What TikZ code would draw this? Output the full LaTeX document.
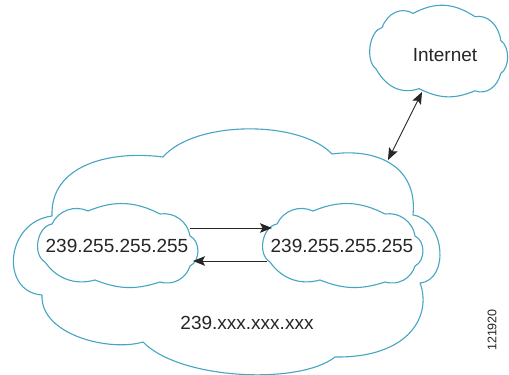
\documentclass[tikz,border=0pt]{standalone}
\usepackage{fontspec}
\setmainfont{Liberation Sans}
\usetikzlibrary{arrows.meta}
\definecolor{cloudc}{RGB}{70,165,196}
\begin{document}
\begin{tikzpicture}[x=1pt,y=1pt,
  cloudline/.style={draw=cloudc, line width=1.1pt, fill=white, line join=round},
  lbl/.style={font=\fontsize{19}{22}\selectfont, text=black!85, inner sep=0pt},
  arr/.style={draw=black!85, line width=0.9pt},
  tip/.style={-{Stealth[length=12pt,width=9.5pt,inset=2.5pt]}},
  bothtip/.style={{Stealth[length=12pt,width=9.5pt,inset=2.5pt]}-{Stealth[length=12pt,width=9.5pt,inset=2.5pt]}},
  smallcloud/.pic={
    \draw[cloudline] (-65,21.5) to[bend left=45] (-29,34.5) to[bend left=25] (43,31.5)
      to[bend left=45] (73,9.5) to[bend left=65] (73,-20.5) to[bend left=45] (43,-36.5)
      to[bend left=20] (-22,-34.5) to[bend left=35] (-72,-16.5) to[bend left=70] (-65,21.5) -- cycle;
  }
]
\fill[white] (0,0) rectangle (509,-375);
\useasboundingbox (0,0) rectangle (509,-375);

% big cloud
\draw[cloudline] (52,-216) .. controls (50,-165) and (110,-150) .. (163,-157)
  .. controls (195,-120) and (300,-120) .. (332,-154)
  .. controls (375,-148) and (418,-165) .. (413,-215)
  .. controls (445,-220) and (450,-280) .. (420,-283)
  .. controls (432,-315) and (410,-358) .. (335,-357)
  .. controls (300,-385) and (180,-380) .. (143,-342)
  .. controls (110,-352) and (40,-335) .. (42,-295)
  .. controls (0,-292) and (5,-222) .. (52,-216) -- cycle;

% small clouds
\pic at (117,-245.5) {smallcloud};
\pic at (342,-245.5) {smallcloud};
\pic[xscale=0.86,yscale=1.09] at (438,-51) {smallcloud};

% labels
\node[lbl] (lc) at (117,-246) {239.255.255.255};
\node[lbl] (rc) at (342,-246) {239.255.255.255};
\node[lbl] (bg) at (247,-323) {239.xxx.xxx.xxx};
\node[lbl] (inet) at (445,-55) {Internet};
\node[font=\fontsize{12.5}{14}\selectfont, text=black!85, rotate=90, inner sep=0pt] (fig) at (492,-330) {121920};

% connectors
\coordinate (a1) at (190,-228);
\coordinate (a2) at (272,-228);
\coordinate (b1) at (267,-261);
\coordinate (b2) at (193,-261);
\coordinate (i1) at (388,-160);
\coordinate (i2) at (422,-92);
\draw[arr,tip] (a1) -- (a2);
\draw[arr,tip] (b1) -- (b2);
\draw[arr,bothtip] (i1) -- (i2);
\end{tikzpicture}
\end{document}
